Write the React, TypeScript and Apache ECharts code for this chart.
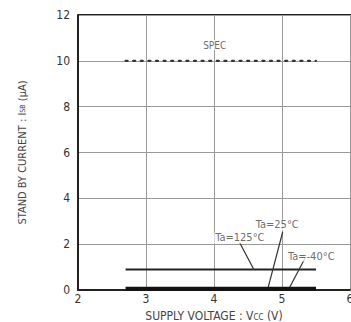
import React, { useEffect, useRef } from "react";
import * as echarts from "echarts";

const xTicks = [2, 3, 4, 5, 6];
const yTicks = [0, 2, 4, 6, 8, 10, 12];
const specLine: [number, number][] = [[2.7, 10], [5.5, 10]];
const ta125Line: [number, number][] = [[2.7, 0.9], [5.5, 0.9]];
const taLowLine: [number, number][] = [[2.7, 0.05], [5.5, 0.05]];
const labels: { text: string; pos: [number, number]; size: number }[] = [
  { text: "SPEC", pos: [4.01, 10.69], size: 10 },
  { text: "Ta=125°C", pos: [4.38, 2.27], size: 11 },
  { text: "Ta=25°C", pos: [4.93, 2.84], size: 11 },
  { text: "Ta=-40°C", pos: [5.43, 1.48], size: 11 },
];
const leaders: [number, number][][] = [
  [[4.38, 2.05], [4.59, 0.87]],
  [[5.01, 2.53], [4.79, 0.04]],
  [[5.34, 1.4], [5.1, 0.04]],
];

const FONT = "'Liberation Sans Narrow', 'DejaVu Sans Condensed', sans-serif";

export default function App() {
  const ref = useRef<HTMLDivElement>(null);
  useEffect(() => {
    const chart = echarts.init(ref.current!, null, { renderer: "svg" });
    const leaderSeries = leaders.map((d) => ({
      type: "line",
      data: d,
      symbol: "none",
      lineStyle: { color: "#333", width: 1.2 },
      z: 3,
    }));
    chart.setOption({
      animation: false,
      backgroundColor: "#fff",
      grid: { left: 78, right: 1, top: 15, bottom: 32, containLabel: false, outerBoundsMode: "none" },
      xAxis: {
        type: "value",
        min: xTicks[0],
        max: xTicks[xTicks.length - 1],
        interval: 1,
        name: "SUPPLY VOLTAGE : V{s|CC} (V)",
        nameLocation: "middle",
        nameGap: 13,
        nameTextStyle: {
          color: "#444",
          fontSize: 12,
          fontFamily: FONT,
          rich: { s: { fontSize: 8, color: "#444", fontFamily: FONT, padding: [4, 0, 0, 0] } },
        },
        axisLine: { show: true, onZero: false, lineStyle: { color: "#222", width: 2 } },
        axisTick: { show: false },
        axisLabel: { color: "#333", fontSize: 12, fontFamily: FONT, margin: 3 },
        splitLine: { show: true, lineStyle: { color: "#999", width: 1 } },
      },
      yAxis: {
        type: "value",
        min: yTicks[0],
        max: yTicks[yTicks.length - 1],
        interval: 2,
        name: "STAND BY CURRENT : I{s|SB} (μA)",
        nameLocation: "middle",
        nameGap: 50,
        nameTextStyle: {
          color: "#444",
          fontSize: 11,
          fontFamily: FONT,
          rich: { s: { fontSize: 7, color: "#444", fontFamily: FONT } },
        },
        axisLine: { show: true, lineStyle: { color: "#222", width: 2 } },
        axisTick: { show: false },
        axisLabel: { color: "#333", fontSize: 12, fontFamily: FONT, margin: 8 },
        splitLine: { show: true, lineStyle: { color: "#999", width: 1 } },
      },
      graphic: [
        {
          type: "line",
          shape: { x1: 78, y1: 15, x2: 351, y2: 15 },
          style: { stroke: "#222", lineWidth: 2 },
        },
      ],
      series: [
        {
          type: "line",
          data: specLine,
          symbol: "none",
          lineStyle: { color: "#333", width: 2.2, type: [2, 5.6], cap: "round" },
          z: 3,
        },
        {
          type: "line",
          data: ta125Line,
          symbol: "none",
          lineStyle: { color: "#222", width: 2 },
          z: 3,
        },
        {
          type: "line",
          data: taLowLine,
          symbol: "none",
          lineStyle: { color: "#111", width: 4 },
          z: 4,
        },
        ...leaderSeries,
        {
          type: "scatter",
          symbolSize: 0,
          data: labels.map((l) => ({
            value: l.pos,
            name: l.text,
            label: { fontSize: l.size },
          })),
          label: {
            show: true,
            position: "inside",
            formatter: (p: any) => p.name,
            color: "#444",
            fontSize: 11,
            fontFamily: FONT,
            backgroundColor: "#fff",
            padding: [0, 1],
          },
          z: 5,
        },
      ],
    });
    return () => chart.dispose();
  }, []);
  return (
    <div
      ref={ref}
      style={{ position: "fixed", left: 0, top: 0, width: 351, height: 322, background: "#fff" }}
    />
  );
}
